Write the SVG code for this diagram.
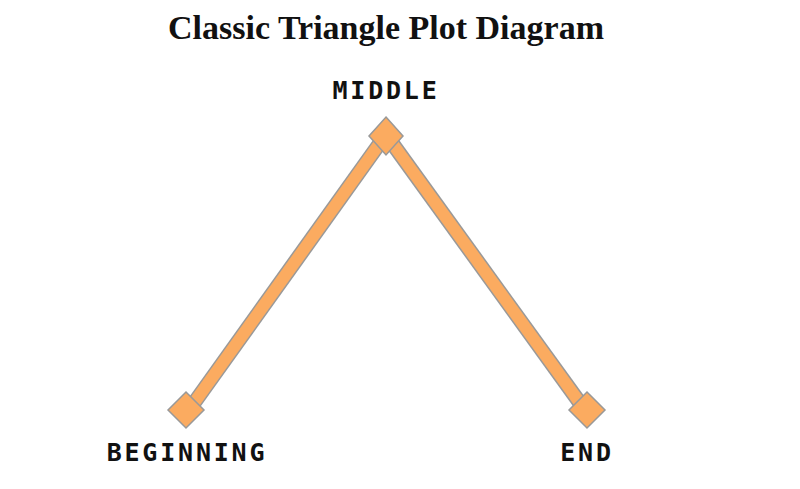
<svg xmlns="http://www.w3.org/2000/svg" width="800" height="489" viewBox="0 0 800 489">
<style>
.bo{stroke:#999;stroke-width:15;stroke-linecap:butt}
.bi{stroke:#fbab60;stroke-width:12;stroke-linecap:butt}
.d{fill:#fbab60;stroke:#999;stroke-width:1.5}
.l{font-family:"DejaVu Sans Mono",monospace;font-size:25px;font-weight:bold;fill:#111;text-anchor:middle;letter-spacing:2.8px}
</style>
<rect width="800" height="489" fill="#fff"/>
<text x="386" y="39" text-anchor="middle" font-family="Liberation Serif,serif" font-weight="bold" font-size="34" fill="#111">Classic Triangle Plot Diagram</text>
<g id="connectors">
<line class="bo" x1="194" y1="403" x2="380" y2="143"/>
<line class="bi" x1="194" y1="403" x2="380" y2="143"/>
<line class="bo" x1="392" y1="143" x2="580" y2="403"/>
<line class="bi" x1="392" y1="143" x2="580" y2="403"/>
</g>
<g id="middle"><polygon class="d" points="386,117 403,136 386,155 369,136"/><text class="l" x="386" y="99">MIDDLE</text></g>
<g id="beginning"><polygon class="d" points="186,392 204,410 186,428 168,410"/><text class="l" x="187" y="461">BEGINNING</text></g>
<g id="end"><polygon class="d" points="587,392 605,410 587,428 569,410"/><text class="l" x="587" y="461">END</text></g>
</svg>
